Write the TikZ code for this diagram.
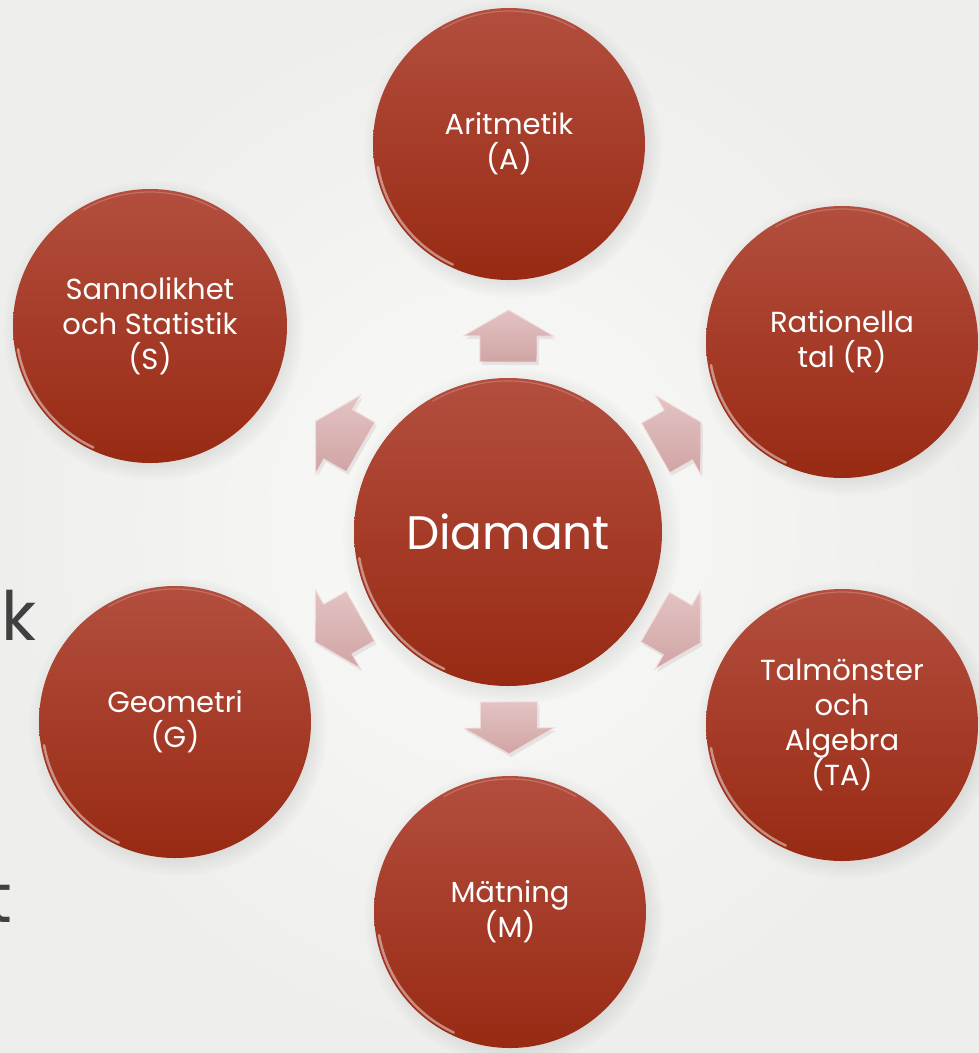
\documentclass[tikz,border=0pt]{standalone}
\usepackage{fontspec}
\setmainfont{Poppins}
\usetikzlibrary{calc,shadows}
\definecolor{bubtop}{RGB}{179,78,62}
\definecolor{bubbot}{RGB}{152,42,19}
\definecolor{arrtop}{RGB}{228,195,195}
\definecolor{arrbot}{RGB}{208,164,164}
\definecolor{arredge}{RGB}{240,218,218}
\definecolor{bginner}{RGB}{250,250,249}
\definecolor{bgouter}{RGB}{238,238,236}
\definecolor{bgtext}{RGB}{64,64,64}
\tikzset{
  bubble/.style={circle, draw=none, top color=bubtop, bottom color=bubbot,
    text=white, align=center, inner sep=0pt,
    font=\fontsize{29}{35}\selectfont,
    circular drop shadow={shadow xshift=3pt, shadow yshift=-4pt, opacity=0.2}},
  arrowbody/.style={top color=arrtop, bottom color=arrbot, draw=arredge,
    line width=0.9pt, line join=miter,
    drop shadow={shadow xshift=2pt, shadow yshift=-3pt, opacity=0.15}},
  gloss/.style={white, opacity=0.45, line width=2.5pt, line cap=round},
  pics/flowarrow/.style={code={
    \path[arrowbody] (-26,28.5) -- (0,28.5) -- (0,45) -- (26,0) -- (0,-45)
      -- (0,-28.5) -- (-26,-28.5) -- cycle;
  }}
}
\newcommand\mybubble[4]{%
  \node[bubble, minimum size=#3pt] (#1) at (#2) {#4};
}
\begin{document}
\begin{tikzpicture}[x=1pt,y=-1pt]
  \clip (0,0) rectangle (979,1053);
  \shade[inner color=bginner, outer color=bgouter] (0,0) rectangle (979,1053);
  \useasboundingbox (0,0) rectangle (979,1053);

  % partial background text of the slide behind
  \node[anchor=base east, text=bgtext, font=\fontsize{68}{68}\selectfont, inner sep=0pt] (bgk) at (37,640) {ik};
  \node[anchor=base east, text=bgtext, font=\fontsize{68}{68}\selectfont, inner sep=0pt] (bgt) at (12,922) {t};

  % centre
  \node[bubble, minimum size=308pt, font=\fontsize{47}{50}\selectfont] (D) at (508,532) {Diamant};

  % outer circles
  \mybubble{A}{509,144}{272}{Aritmetik\\(A)}
  \mybubble{R}{842,342}{272}{Rationella\\tal (R)}
  \mybubble{T}{842,725}{272}{Talmönster\\och\\Algebra\\(TA)}
  \mybubble{M}{510,912}{272}{Mätning\\(M)}
  \mybubble{G}{175,722}{272}{Geometri\\(G)}
  \mybubble{S}{150,326}{274}{Sannolikhet\\och Statistik\\(S)}

  % glossy rims (lower left and top)
  \foreach \n/\r in {D/151, A/133, R/133, T/133, M/133, G/133, S/134}{
    \draw[gloss] ($(\n)+(-190:\r)$) arc[start angle=-190, end angle=-245, radius=\r];
    \draw[white, opacity=0.2, line width=1.2pt] ($(\n)+(-60:\r)$) arc[start angle=-60, end angle=-120, radius=\r];
  }

  % arrows from the centre to each outer circle
  \foreach \o in {A,R,T,M,G,S}{
    \path let \p1=($(\o)-(D)$), \n1={atan2(\y1,\x1)} in
      pic[rotate=\n1] at ($(D)!196pt!(\o)$) {flowarrow};
  }
\end{tikzpicture}
\end{document}
